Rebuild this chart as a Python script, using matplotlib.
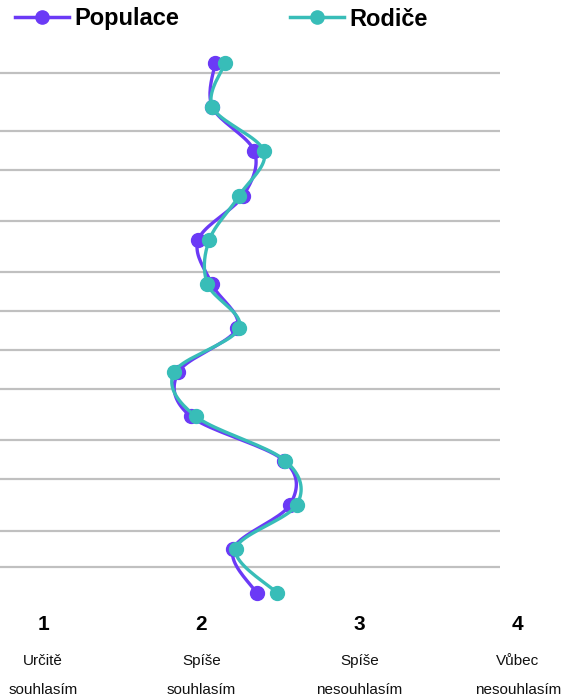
import numpy as np
import matplotlib
matplotlib.use("Agg")
import matplotlib.pyplot as plt
from matplotlib.lines import Line2D
import matplotlib.transforms as mtrans

plt.rcParams['font.family'] = ['Liberation Sans', 'DejaVu Sans']

# --- data ---
series_names = ["Populace", "Rodiče"]
populace = [2.087, 2.07, 2.335, 2.265, 1.981, 2.066, 2.227, 1.855, 1.933, 2.522, 2.560, 2.202, 2.350]
rodice = [2.150, 2.07, 2.396, 2.240, 2.051, 2.038, 2.240, 1.828, 1.965, 2.529, 2.603, 2.217, 2.480]
item_pos = list(range(13))
grid_pos = [0.226, 1.54, 2.42, 3.58, 4.73, 5.61, 6.50, 7.38, 8.54, 9.42, 10.60, 11.41]
scale_values = [1, 2, 3, 4]
scale_labels = [("Určitě", "souhlasím"), ("Spíše", "souhlasím"),
                ("Spíše", "nesouhlasím"), ("Vůbec", "nesouhlasím")]

colors = ["#6B3AF6", "#38BDB8"]

W, H = 561, 699
fig = plt.figure(figsize=(W / 100, H / 100), dpi=100)
ax = fig.add_axes([0, 1 - 610 / H, 1, (610 - 40) / H])
px_per_unit = 158.3
ax.set_xlim(1 - 43 / px_per_unit, 1 + (W - 43) / px_per_unit)
yspace = 44.17
ax.set_ylim((610 - 63) / yspace, (40 - 63) / yspace)
ax.axis("off")

grid_end = 1 + (500 - 43) / px_per_unit
for g in grid_pos:
    ax.plot([ax.get_xlim()[0], grid_end], [g, g], color="#C0C0C0", lw=1.6, zorder=1,
            solid_capstyle="butt")


def catmull(xs, ys, n=20):
    P = np.column_stack([xs, ys]).astype(float)
    P = np.vstack([P[0], P, P[-1]])
    out = []
    for i in range(1, len(P) - 2):
        p0, p1, p2, p3 = P[i - 1], P[i], P[i + 1], P[i + 2]
        t = np.linspace(0, 1, n, endpoint=False)[:, None]
        seg = 0.5 * ((2 * p1) + (-p0 + p2) * t + (2 * p0 - 5 * p1 + 4 * p2 - p3) * t ** 2
                     + (-p0 + 3 * p1 - 3 * p2 + p3) * t ** 3)
        out.append(seg)
    out.append(P[-2][None, :])
    out = np.vstack(out)
    return out[:, 0], out[:, 1]


for vals, c, z in [(populace, colors[0], 3), (rodice, colors[1], 4)]:
    sx, sy = catmull(vals, item_pos)
    ax.plot(sx, sy, color=c, lw=2.4, zorder=z, solid_capstyle="round")
    ax.plot(vals, item_pos, 'o', color=c, ms=10, zorder=z + 0.5, mec=c)

# x scale labels
tr = mtrans.blended_transform_factory(ax.transData, fig.transFigure)
for v, (l1, l2) in zip(scale_values, scale_labels):
    ax.text(v, 1 - 630 / H, str(v), transform=tr, ha="center", va="baseline",
            fontsize=15, fontweight="bold", color="#000000")
    ax.text(v, 1 - 665 / H, l1, transform=tr, ha="center", va="baseline",
            fontsize=11, color="#111111")
    ax.text(v, 1 - 694 / H, l2, transform=tr, ha="center", va="baseline",
            fontsize=11, color="#111111")

handles = [Line2D([], [], color=c, lw=2.5, marker='o', ms=9.5) for c in colors]
fig.legend(handles, series_names, loc="center left", bbox_to_anchor=(15 / W, 1 - 19 / H),
           ncol=2, frameon=False, prop={"weight": "bold", "size": 17},
           handlelength=2.29, handletextpad=0.21, columnspacing=4.7, borderpad=0, borderaxespad=0)

fig.savefig("out.png", dpi=100)
